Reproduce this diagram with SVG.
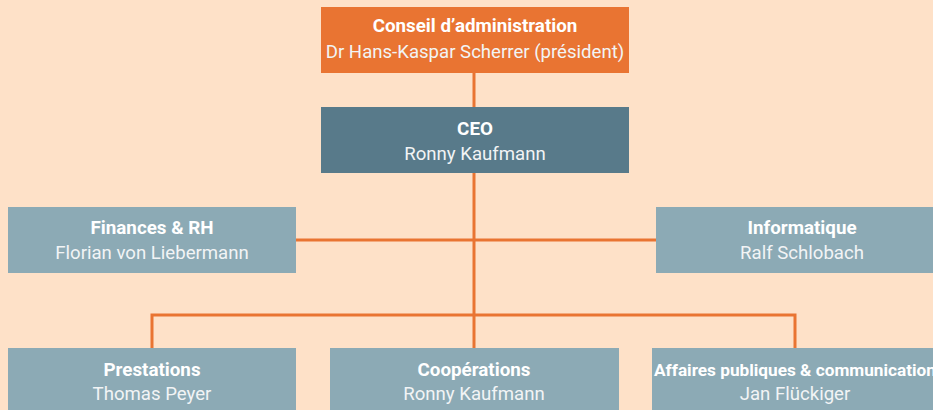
<svg xmlns="http://www.w3.org/2000/svg" width="933" height="410" viewBox="0 0 933 410">
<style>
.bg{fill:#FEE1C8}
.orange{fill:#E97432}
.dark{fill:#587A8A}
.light{fill:#8CAAB5}
.t{font-family:Roboto,"Liberation Sans",sans-serif;font-size:18.6px;fill:#fff;text-anchor:middle}
.b{font-weight:bold;font-size:18.8px}
.n{fill:#F2F4F5}
.ln{stroke:#E97432;stroke-width:3;fill:none}
</style>
<rect class="bg" x="0" y="0" width="933" height="410"/>
<g id="connectors">
<line class="ln" x1="474" y1="73" x2="474" y2="107"/>
<line class="ln" x1="474" y1="173" x2="474" y2="348"/>
<line class="ln" x1="296" y1="240" x2="656" y2="240"/>
<polyline class="ln" points="152,348 152,315 795,315 795,348"/>
</g>
<g id="board">
<rect class="orange" x="321" y="7" width="308" height="66"/>
<text class="t b" x="475" y="32">Conseil d’administration</text>
<text class="t n" x="475" y="58">Dr Hans-Kaspar Scherrer (président)</text>
</g>
<g id="ceo">
<rect class="dark" x="321" y="107" width="308" height="66"/>
<text class="t b" x="475" y="135">CEO</text>
<text class="t n" x="475" y="160">Ronny Kaufmann</text>
</g>
<g id="finances">
<rect class="light" x="8" y="207" width="288" height="66"/>
<text class="t b" x="152" y="234">Finances &amp; RH</text>
<text class="t n" x="152" y="259">Florian von Liebermann</text>
</g>
<g id="informatique">
<rect class="light" x="656" y="207" width="277" height="66"/>
<text class="t b" x="802" y="234">Informatique</text>
<text class="t n" x="802" y="259">Ralf Schlobach</text>
</g>
<g id="prestations">
<rect class="light" x="8" y="348" width="288" height="62"/>
<text class="t b" x="152" y="376">Prestations</text>
<text class="t n" x="152" y="400">Thomas Peyer</text>
</g>
<g id="cooperations">
<rect class="light" x="330" y="348" width="289" height="62"/>
<text class="t b" x="474" y="376">Coopérations</text>
<text class="t n" x="474" y="400">Ronny Kaufmann</text>
</g>
<g id="affaires">
<rect class="light" x="652" y="348" width="281" height="62"/>
<text class="t b" x="795" y="376" style="font-size:17px" textLength="282" lengthAdjust="spacingAndGlyphs">Affaires publiques &amp; communication</text>
<text class="t n" x="795" y="400">Jan Flückiger</text>
</g>
</svg>
